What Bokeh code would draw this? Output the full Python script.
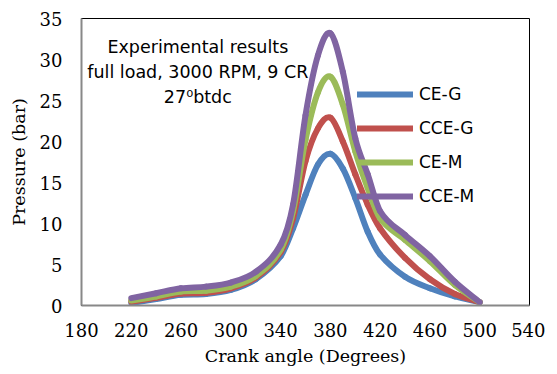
from bokeh.plotting import figure
from bokeh.models import Range1d, FixedTicker, Label, Legend, LegendItem, ColumnDataSource
from bokeh.embed import file_html
from bokeh.resources import INLINE

crank_angle = [220, 240, 260, 280, 300, 320, 340, 350, 360, 370, 380, 390, 400, 410, 420, 440, 460, 480, 500]
ce_g = [0.3, 0.8, 1.3, 1.4, 1.9, 3.2, 6.0, 9.4, 13.5, 17.2, 18.5, 16.7, 13.1, 9.0, 6.2, 3.5, 2.1, 1.1, 0.4]
cce_g = [0.45, 0.95, 1.45, 1.55, 2.1, 3.4, 6.5, 10.6, 17.6, 21.6, 22.9, 20.0, 16.0, 12.3, 9.4, 5.8, 3.2, 1.4, 0.4]
ce_m = [0.6, 1.1, 1.7, 1.8, 2.3, 3.6, 6.8, 11.5, 20.2, 26.0, 27.9, 24.5, 18.8, 14.3, 10.6, 8.0, 5.4, 2.5, 0.4]
cce_m = [0.9, 1.5, 2.1, 2.3, 2.8, 4.1, 7.4, 12.3, 23.2, 30.5, 33.2, 28.5, 20.4, 16.0, 11.5, 8.6, 6.0, 2.9, 0.4]

series_names = ["CE-G", "CCE-G", "CE-M", "CCE-M"]
series_values = [ce_g, cce_g, ce_m, cce_m]
series_colors = ["#4F81BD", "#C0504D", "#9BBB59", "#8064A2"]

x_ticks = [180, 220, 260, 300, 340, 380, 420, 460, 500, 540]
y_ticks = [0, 5, 10, 15, 20, 25, 30, 35]

annotation_lines = ["Experimental results", "full load, 3000 RPM, 9 CR", "27\u2070btdc"]

p = figure(output_backend="svg", toolbar_location=None,
           x_range=Range1d(180, 540), y_range=Range1d(0, 35),
           min_border_left=81, min_border_right=16, min_border_top=18, min_border_bottom=56)
p.frame_width = 448
p.frame_height = 287
p.background_fill_color = "white"
p.border_fill_color = "white"
p.outline_line_color = "black"
p.outline_line_width = 1
p.xgrid.visible = False
p.ygrid.visible = False

p.xaxis.ticker = FixedTicker(ticks=x_ticks)
p.yaxis.ticker = FixedTicker(ticks=y_ticks)
for ax in (p.xaxis[0], p.yaxis[0]):
    ax.axis_line_color = "#888888"
    ax.axis_line_width = 2
    ax.major_tick_line_color = None
    ax.minor_tick_line_color = None
    ax.major_label_text_font = "DejaVu Serif"
    ax.major_label_text_font_size = "18px"
    ax.major_label_text_color = "black"
    ax.axis_label_text_font = "DejaVu Serif"
    ax.axis_label_text_font_size = "17.5px"
    ax.axis_label_text_font_style = "normal"
    ax.axis_label_text_color = "black"
p.xaxis.axis_label = "Crank angle (Degrees)"
p.yaxis.axis_label = "Pressure (bar)"
p.xaxis.major_label_standoff = 11
p.yaxis.major_label_standoff = 13
p.xaxis.axis_label_standoff = 6
p.yaxis.axis_label_standoff = 8


def smooth_segments(xs, ys):
    n = len(xs)
    out = dict(x0=[], y0=[], x1=[], y1=[], cx0=[], cy0=[], cx1=[], cy1=[])
    for i in range(n - 1):
        xm, ym = (xs[i - 1], ys[i - 1]) if i > 0 else (xs[i], ys[i])
        xp, yp = (xs[i + 2], ys[i + 2]) if i + 2 < n else (xs[i + 1], ys[i + 1])
        h = xs[i + 1] - xs[i]
        # tangents scaled to the local segment length (non-uniform Catmull-Rom)
        s0 = (ys[i + 1] - ym) / (xs[i + 1] - xm) if xs[i + 1] != xm else 0.0
        s1 = (yp - ys[i]) / (xp - xs[i]) if xp != xs[i] else 0.0
        out["x0"].append(xs[i]); out["y0"].append(ys[i])
        out["x1"].append(xs[i + 1]); out["y1"].append(ys[i + 1])
        out["cx0"].append(xs[i] + h / 3.0)
        out["cy0"].append(ys[i] + s0 * h / 3.0)
        out["cx1"].append(xs[i + 1] - h / 3.0)
        out["cy1"].append(ys[i + 1] - s1 * h / 3.0)
    return out


legend_items = []
for name, vals, col in zip(series_names, series_values, series_colors):
    src = ColumnDataSource(smooth_segments(crank_angle, vals))
    r = p.bezier(x0="x0", y0="y0", x1="x1", y1="y1", cx0="cx0", cy0="cy0", cx1="cx1", cy1="cy1",
                 source=src, line_color=col, line_width=6, line_cap="round")
    legend_items.append(LegendItem(label=name, renderers=[r], index=0))

legend = Legend(items=legend_items, location=(276, 99), background_fill_alpha=0,
                border_line_color=None, padding=0, margin=0, spacing=14,
                glyph_width=56, glyph_height=20, label_height=20, label_standoff=6,
                label_text_font="DejaVu Sans", label_text_font_size="17px", label_text_color="black")
p.add_layout(legend)

label_y = [31.5, 28.5, 25.4]
for txt, yy in zip(annotation_lines, label_y):
    p.add_layout(Label(x=273.5, y=yy, text=txt, text_align="center", text_baseline="middle",
                       text_font="DejaVu Sans", text_font_size="17.5px", text_color="black"))

open("out.html", "w").write(file_html(p, INLINE))
